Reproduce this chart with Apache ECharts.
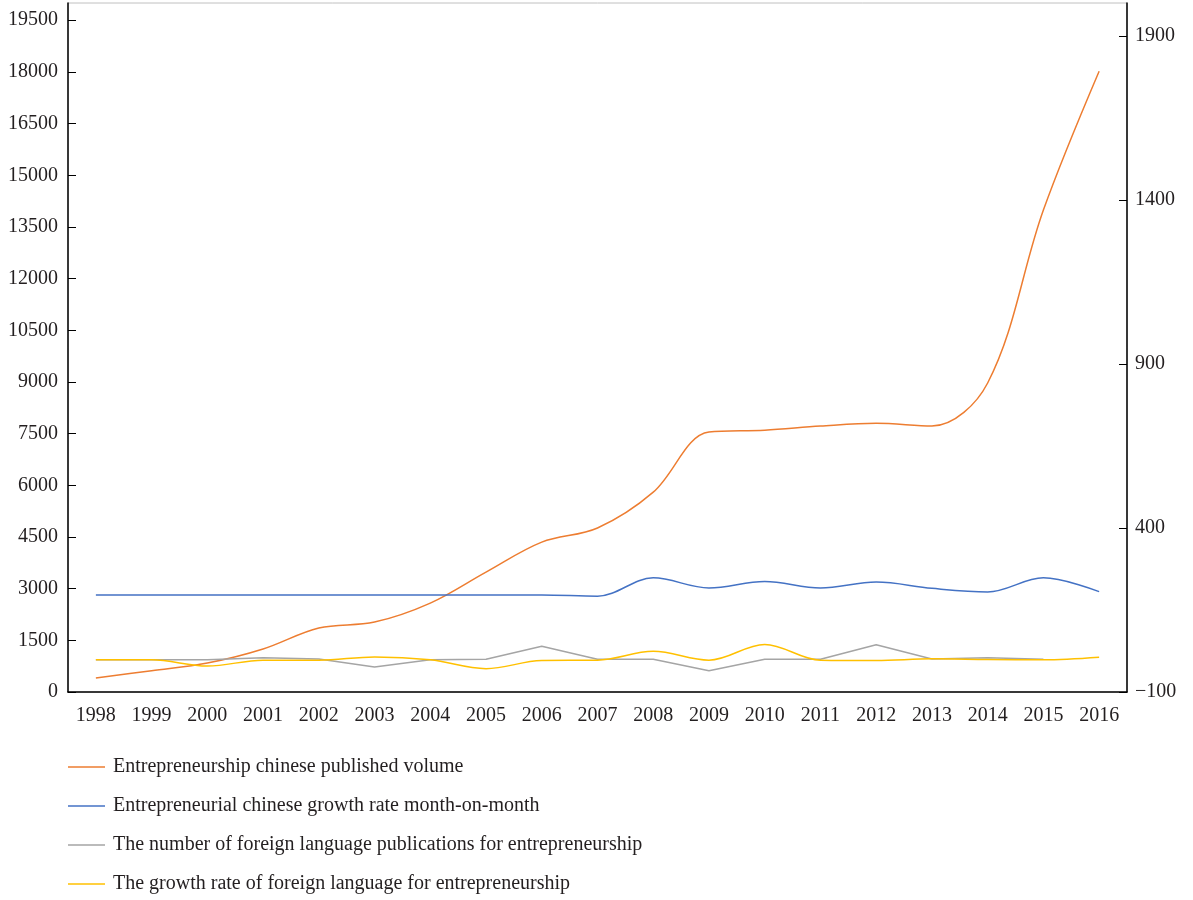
<!DOCTYPE html>
<html>
<head>
<meta charset="utf-8">
<script src="https://cdn.jsdelivr.net/npm/echarts@6/dist/echarts.min.js"></script>
<style>
  html, body { margin: 0; padding: 0; background: #fff; }
  #chart { width: 1193px; height: 900px; }
</style>
</head>
<body>
<div id="chart"></div>
<script>
const years = ['1998','1999','2000','2001','2002','2003','2004','2005','2006','2007','2008','2009','2010','2011','2012','2013','2014','2015','2016']
const seriesNames = [
  'Entrepreneurship chinese published volume',
  'Entrepreneurial chinese growth rate month-on-month',
  'The number of foreign language publications for entrepreneurship',
  'The growth rate of foreign language for entrepreneurship'
]
// left axis
const cnVolume = [406, 618, 840, 1248, 1857, 2030, 2580, 3480, 4350, 4760, 5800, 7545, 7600, 7720, 7800, 7720, 8970, 13990, 18020]
const foreignCount = [936, 936, 936, 994, 957, 725, 936, 948, 1325, 948, 948, 617, 948, 948, 1371, 957, 994, 948, null]
// right axis
const cnGrowth = [196, 196, 196, 196, 196, 196, 196, 196, 196, 192, 248, 217, 237, 217, 235, 216, 205, 248, 206]
const foreignGrowth = [-2, -2, -21, -3, -3, 7, -2, -29, -4, -3, 24, -3, 45, -3, -4, 1, -1, -2, 6]

const colors = ['#ED7D31', '#4472C4', '#A5A5A5', '#FFC000']
const font = '"Liberation Serif", "DejaVu Serif", serif'

const chart = echarts.init(document.getElementById('chart'))

function line(i, data, yIdx, smooth) {
  return {
    name: seriesNames[i],
    type: 'line',
    yAxisIndex: yIdx,
    data: data,
    smooth: smooth,
    symbol: 'none',
    lineStyle: { color: colors[i], width: 1.5 },
    itemStyle: { color: colors[i] }
  }
}

chart.setOption({
  animation: false,
  textStyle: { fontFamily: font },
  grid: { left: 68, right: 66, top: 3, bottom: 208, show: true, borderColor: '#c0c0c0', borderWidth: 1 },
  legend: {
    orient: 'vertical',
    left: 63,
    top: 752,
    icon: 'rect',
    itemWidth: 37,
    itemHeight: 1.5,
    itemGap: 19,
    textStyle: { fontFamily: font, fontSize: 20, color: '#231f20', padding: [0, 0, 0, 3] },
    data: seriesNames
  },
  xAxis: {
    type: 'category',
    data: years,
    boundaryGap: true,
    axisLine: { lineStyle: { color: '#000', width: 1.5 } },
    axisTick: { show: false },
    axisLabel: { color: '#231f20', fontSize: 20, fontFamily: font, margin: 14 }
  },
  yAxis: [{
    type: 'value',
    min: 0, max: 20000, interval: 1500,
    axisLine: { show: true, lineStyle: { color: '#000', width: 1.5 } },
    axisTick: { show: true, inside: true, length: 8, lineStyle: { color: '#000' } },
    axisLabel: {
      color: '#231f20', fontSize: 20, fontFamily: font, margin: 10, showMaxLabel: false,
      formatter: v => String(v)
    },
    splitLine: { show: false }
  }, {
    type: 'value',
    min: -100, max: 2000, interval: 500,
    axisLine: { show: true, lineStyle: { color: '#000', width: 1.5 } },
    axisTick: { show: true, inside: true, length: 8, lineStyle: { color: '#000' } },
    axisLabel: {
      color: '#231f20', fontSize: 20, fontFamily: font, margin: 8, showMaxLabel: false,
      formatter: v => String(v).replace('-', '\u2212')
    },
    splitLine: { show: false }
  }],
  series: [
    line(0, cnVolume, 0, 0.35),
    line(1, cnGrowth, 1, 0.35),
    line(2, foreignCount, 0, false),
    line(3, foreignGrowth, 1, 0.35)
  ]
})
</script>
</body>
</html>
